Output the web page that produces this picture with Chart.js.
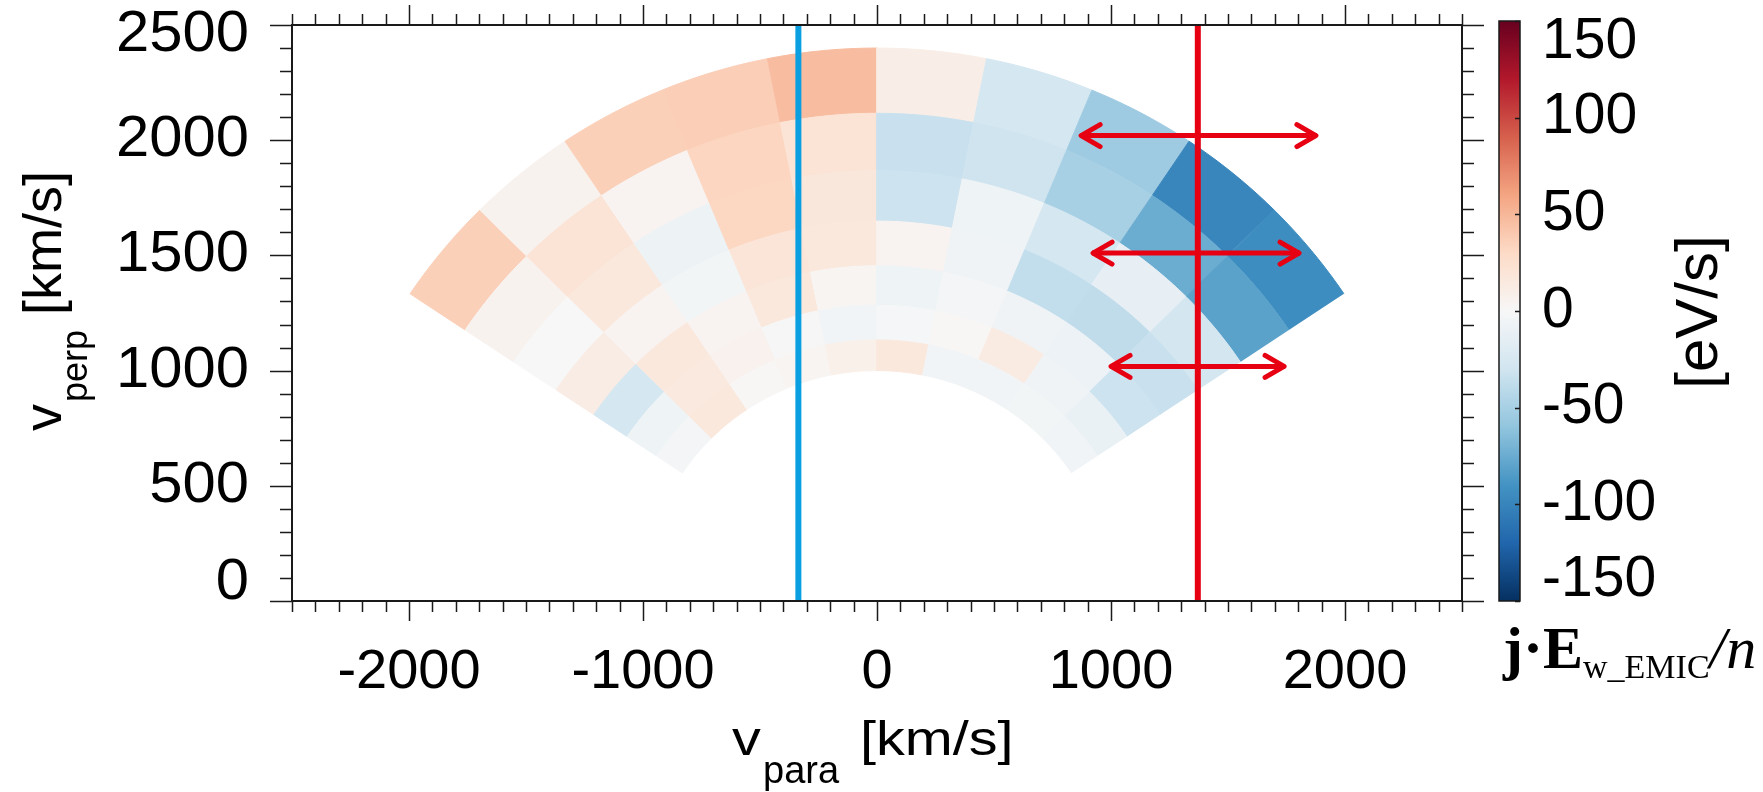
<!DOCTYPE html>
<html>
<head>
<meta charset="utf-8">
<script src="https://cdn.jsdelivr.net/npm/chart.js@4.4.1/dist/chart.umd.min.js"></script>
<style>
  body { margin: 0; background: #fff; }
  canvas { display: block; }
</style>
</head>
<body>
<canvas id="fanChart" width="1763" height="792"></canvas>
<script>
// speed bin edges [km/s] and angle bin edges [deg from +v_para]
const speedEdges = [1000, 1133, 1284, 1455, 1649, 1868, 2117, 2400]
const angleEdges = [33.75, 45, 56.25, 67.5, 78.75, 90, 101.25, 112.5, 123.75, 135, 146.25]

// j.E / n [eV/s], one array per speed bin (inner -> outer), columns follow angleEdges
const ring1 = [-5, -4, -5, -5, 16, 8, 3, 1, 16, -3]
const ring2 = [-10, -6, 13, 1, -2, -5, -1, 6, 15, -7]
const ring3 = [-32, -9, -6, -3, -7, 3, 16, 4, 16, -27]
const ring4 = [-34, -38, -37, -6, 4, 16, 19, -4, 4, 12]
const ring5 = [-28, -13, -27, -7, -32, 17, 32, -8, 16, 0]
const ring6 = [-81, -75, -50, -31, -34, 21, 33, 4, 21, 5]
const ring7 = [-94, -99, -54, -27, 10, 47, 37, 36, 5, 36]
const rings = [ring1, ring2, ring3, ring4, ring5, ring6, ring7]

const xTicks = [-2000, -1000, 0, 1000, 2000]
const yTicks = [0, 500, 1000, 1500, 2000, 2500]
const cbarTicks = [150, 100, 50, 0, -50, -100, -150]

// marker lines and arrows
const cyanLineV = -336
const redLineV = 1371
const arrowY = [2020, 1510, 1018]
const arrowStart = [868, 919, 996]
const arrowEnd = [1880, 1808, 1744]

const rdbu = ['#053061', '#2166ac', '#4393c3', '#92c5de', '#d1e5f0', '#f7f7f7',
  '#fddbc7', '#f4a582', '#d6604d', '#b2182b', '#67001f']

const hexRgb = h => [1, 3, 5].map(i => parseInt(h.substr(i, 2), 16))

const colorFor = v => {
  const t = Math.max(0, Math.min(1, (v + 150) / 300)) * (rdbu.length - 1)
  const i = Math.min(rdbu.length - 2, Math.floor(t))
  const f = t - i
  const a = hexRgb(rdbu[i])
  const b = hexRgb(rdbu[i + 1])
  const c = a.map((x, n) => Math.round(x + (b[n] - x) * f))
  return 'rgb(' + c.join(',') + ')'
}

const wedge = (r1, r2, a1, a2) => {
  const pts = []
  const steps = 10
  for (let s = 0; s <= steps; s++) {
    const a = (a1 + (a2 - a1) * s / steps) * Math.PI / 180
    pts.push({ x: r2 * Math.cos(a), y: r2 * Math.sin(a) })
  }
  for (let s = steps; s >= 0; s--) {
    const a = (a1 + (a2 - a1) * s / steps) * Math.PI / 180
    pts.push({ x: r1 * Math.cos(a), y: r1 * Math.sin(a) })
  }
  return pts
}

const datasets = []
const red = '#e60012'

datasets.push({ data: [{ x: cyanLineV, y: 0 }, { x: cyanLineV, y: 2500 }], borderColor: '#0a9fe0', borderWidth: 6, order: 0 })
datasets.push({ data: [{ x: redLineV, y: 0 }, { x: redLineV, y: 2500 }], borderColor: red, borderWidth: 6, order: 0 })
arrowY.forEach((y, i) => {
  datasets.push({ data: [{ x: arrowStart[i], y: y }, { x: arrowEnd[i], y: y }], borderColor: red, borderWidth: 5, order: 0 })
})

rings.forEach((ring, k) => {
  ring.forEach((val, j) => {
    const col = colorFor(val)
    datasets.push({
      data: wedge(speedEdges[k], speedEdges[k + 1], angleEdges[j], angleEdges[j + 1]),
      backgroundColor: col,
      borderColor: col,
      borderWidth: 1,
      fill: 'shape',
      order: 2
    })
  })
})

const stretchText = (ctx, txt, x, y, sx, align) => {
  ctx.save()
  ctx.translate(x, y)
  ctx.scale(sx, 1)
  ctx.textAlign = align
  ctx.fillText(txt, 0, 0)
  ctx.restore()
}

const sans = px => px + 'px "Liberation Sans", Arial, sans-serif'

const decorPlugin = {
  id: 'decor',
  afterDatasetsDraw(chart) {
    const ctx = chart.ctx
    const xs = chart.scales.x
    const ys = chart.scales.y

    // arrow heads
    ctx.save()
    ctx.strokeStyle = red
    ctx.lineWidth = 5
    ctx.lineCap = 'round'
    ctx.lineJoin = 'round'
    arrowY.forEach((y, i) => {
      const py = ys.getPixelForValue(y)
      const xa = xs.getPixelForValue(arrowStart[i])
      const xb = xs.getPixelForValue(arrowEnd[i])
      ctx.beginPath()
      ctx.moveTo(xa + 20, py - 11); ctx.lineTo(xa + 1, py); ctx.lineTo(xa + 20, py + 11)
      ctx.moveTo(xb - 20, py - 11); ctx.lineTo(xb - 1, py); ctx.lineTo(xb - 20, py + 11)
      ctx.stroke()
    })
    ctx.restore()
  },
  afterDraw(chart) {
    const ctx = chart.ctx
    const xs = chart.scales.x
    const ys = chart.scales.y
    const a = chart.chartArea
    ctx.save()
    ctx.strokeStyle = '#1a1a1a'
    ctx.fillStyle = '#000'
    ctx.lineWidth = 2
    ctx.strokeRect(a.left, a.top, a.right - a.left, a.bottom - a.top)

    ctx.lineWidth = 1.5
    ctx.beginPath()
    for (let i = -25; i <= 25; i++) {
      const px = Math.round(xs.getPixelForValue(i * 100)) + 0.5
      const len = i % 10 === 0 ? 20 : 11
      ctx.moveTo(px, a.bottom); ctx.lineTo(px, a.bottom + len)
      ctx.moveTo(px, a.top); ctx.lineTo(px, a.top - len)
    }
    for (let i = 0; i <= 25; i++) {
      const py = Math.round(ys.getPixelForValue(i * 100)) + 0.5
      const len = i % 5 === 0 ? 22 : 12
      ctx.moveTo(a.left, py); ctx.lineTo(a.left - len, py)
      ctx.moveTo(a.right, py); ctx.lineTo(a.right + len, py)
    }
    ctx.stroke()

    // tick labels
    ctx.font = sans(58)
    ctx.textBaseline = 'middle'
    yTicks.forEach(v => {
      const py = Math.max(35, Math.min(583, ys.getPixelForValue(v)))
      stretchText(ctx, String(v), 249, py, 1.03, 'right')
    })
    ctx.font = sans(56)
    ctx.textBaseline = 'alphabetic'
    xTicks.forEach(v => {
      stretchText(ctx, String(v), xs.getPixelForValue(v), 688, 1.0, 'center')
    })

    // axis titles
    ctx.font = sans(48)
    stretchText(ctx, 'v', 732, 755, 1.2, 'left')
    stretchText(ctx, '[km/s]', 860, 755, 1.2, 'left')
    ctx.font = sans(38)
    stretchText(ctx, 'para', 763, 783, 1.0, 'left')

    ctx.save()
    ctx.translate(61, 302)
    ctx.rotate(-Math.PI / 2)
    ctx.font = sans(54)
    const wv = ctx.measureText('v').width
    const wk = ctx.measureText(' [km/s]').width
    ctx.font = sans(36)
    const wp = ctx.measureText('perp').width
    const x0 = -(wv + wp + wk) / 2
    ctx.textAlign = 'left'
    ctx.font = sans(54)
    ctx.fillText('v', x0, 0)
    ctx.font = sans(36)
    ctx.fillText('perp', x0 + wv + 2, 26)
    ctx.font = sans(54)
    ctx.fillText(' [km/s]', x0 + wv + wp + 2, 0)
    ctx.restore()

    // colour bar
    const cbX = 1499, cbW = 21, cbTop = 21, cbBot = a.bottom
    const grad = ctx.createLinearGradient(0, cbBot, 0, cbTop)
    rdbu.forEach((c, i) => grad.addColorStop(i / (rdbu.length - 1), c))
    ctx.fillStyle = grad
    ctx.fillRect(cbX, cbTop, cbW, cbBot - cbTop)
    ctx.strokeStyle = '#1a1a1a'
    ctx.lineWidth = 1.5
    ctx.strokeRect(cbX, cbTop, cbW, cbBot - cbTop)
    const cbPix = v => cbBot - (v + 150) / 300 * (cbBot - cbTop)
    ctx.beginPath()
    cbarTicks.forEach(v => {
      const py = Math.round(cbPix(v)) + 0.5
      ctx.moveTo(cbX + cbW, py); ctx.lineTo(cbX + cbW - 5, py)
    })
    ctx.stroke()
    ctx.fillStyle = '#000'
    ctx.font = sans(57)
    ctx.textBaseline = 'middle'
    cbarTicks.forEach(v => {
      const py = Math.max(42, Math.min(580, cbPix(v)))
      stretchText(ctx, String(v), 1542, py, 1.0, 'left')
    })

    ctx.save()
    ctx.translate(1717, 312)
    ctx.rotate(-Math.PI / 2)
    ctx.textBaseline = 'alphabetic'
    ctx.textAlign = 'center'
    ctx.font = sans(60)
    ctx.fillText('[eV/s]', 0, 0)
    ctx.restore()

    // quantity label under the colour bar
    ctx.textBaseline = 'alphabetic'
    ctx.textAlign = 'left'
    let lx = 1503
    ctx.font = 'bold 60px "Liberation Serif", "Times New Roman", serif'
    ctx.fillText('j\u00b7E', lx, 668)
    lx += ctx.measureText('j\u00b7E').width
    ctx.font = '34px "Liberation Serif", "Times New Roman", serif'
    ctx.fillText('w_EMIC', lx, 678)
    lx += ctx.measureText('w_EMIC').width
    ctx.font = 'italic 60px "Liberation Serif", "Times New Roman", serif'
    ctx.fillText('/n', lx, 668)
    ctx.restore()
  }
}

new Chart(document.getElementById('fanChart'), {
  type: 'line',
  data: { datasets: datasets },
  options: {
    responsive: false,
    animation: false,
    events: [],
    layout: { padding: { left: 292, right: 301, top: 25, bottom: 191 } },
    elements: { point: { radius: 0 }, line: { tension: 0 } },
    scales: {
      x: { type: 'linear', min: -2500, max: 2500, display: false },
      y: { type: 'linear', min: 0, max: 2500, display: false }
    },
    plugins: { legend: { display: false }, tooltip: { enabled: false } }
  },
  plugins: [decorPlugin]
})
</script>
</body>
</html>
